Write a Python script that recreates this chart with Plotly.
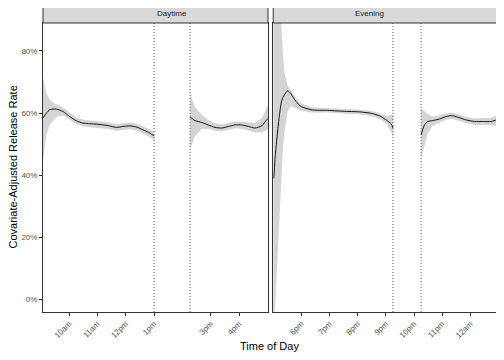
import plotly.graph_objects as go

# ---- data (percent) ----
day_a_hour = [9.08, 9.20, 9.32, 9.55, 9.79, 10.02, 10.26, 10.49, 10.73, 11.02, 11.37, 11.67, 11.90, 12.14, 12.39, 12.61, 12.81, 13.0]
day_a_rate = [58.4, 60.0, 61.1, 61.3, 60.5, 58.9, 57.5, 56.8, 56.6, 56.4, 56.0, 55.4, 55.7, 55.9, 55.5, 54.6, 53.8, 52.7]
day_a_hi   = [71.5, 66.5, 64.3, 62.8, 61.8, 60.2, 58.7, 57.9, 57.7, 57.5, 57.1, 56.5, 56.8, 57.0, 56.6, 55.8, 55.1, 54.2]
day_a_lo   = [44.5, 53.0, 56.2, 58.8, 59.2, 57.7, 56.4, 55.7, 55.5, 55.3, 54.9, 54.3, 54.6, 54.8, 54.4, 53.4, 52.5, 51.2]

day_b_hour = [14.27, 14.44, 14.68, 14.91, 15.15, 15.39, 15.62, 15.86, 16.09, 16.33, 16.56, 16.80, 16.97, 17.02]
day_b_rate = [58.7, 57.6, 57.0, 56.2, 55.4, 55.2, 55.7, 56.2, 56.2, 55.7, 55.2, 55.9, 57.8, 58.3]
day_b_hi   = [66.5, 62.0, 59.5, 57.8, 56.7, 56.4, 56.8, 57.3, 57.3, 57.0, 56.8, 58.4, 61.6, 62.5]
day_b_lo   = [48.2, 52.5, 55.0, 55.0, 54.3, 54.1, 54.6, 55.1, 55.0, 54.4, 53.8, 53.8, 54.6, 54.5]

eve_a_hour = [17.0, 17.02, 17.04, 17.06, 17.11, 17.16, 17.23, 17.28, 17.34, 17.40, 17.51, 17.63, 17.81, 17.99, 18.34, 18.58, 18.89, 19.48, 20.07, 20.50, 20.78, 21.01, 21.19, 21.25]
eve_a_rate = [None, 39.0, 41.7, 45.0, 50.0, 54.6, 60.0, 63.2, 65.0, 65.9, 67.2, 66.2, 63.7, 62.1, 61.1, 60.9, 60.9, 60.6, 60.4, 59.9, 59.1, 57.8, 56.5, 55.2]
eve_a_hi   = [120.0, 115.0, 110.0, 105.0, 100.0, 96.0, 92.0, 89.0, 79.4, 73.0, 69.0, 67.3, 64.8, 63.2, 62.0, 61.7, 61.6, 61.3, 61.1, 60.7, 60.0, 59.1, 59.3, 59.5]
eve_a_lo   = [-20.0, -14.0, -8.0, -3.0, 5.4, 16.0, 29.0, 38.0, 48.0, 54.0, 60.5, 62.3, 61.6, 60.8, 60.2, 60.1, 60.2, 59.9, 59.6, 59.0, 58.1, 56.6, 54.0, 51.9]

eve_b_hour = [22.25, 22.37, 22.49, 22.66, 22.90, 23.14, 23.32, 23.55, 23.85, 24.15, 24.44, 24.74, 24.92, 24.98]
eve_b_rate = [53.0, 56.2, 57.3, 57.6, 58.1, 58.9, 59.2, 58.7, 57.8, 57.3, 57.3, 57.3, 57.8, 58.0]
eve_b_hi   = [61.6, 60.5, 59.6, 58.9, 59.2, 59.9, 60.2, 59.7, 58.8, 58.3, 58.4, 58.5, 59.3, 59.7]
eve_b_lo   = [45.5, 49.8, 53.5, 55.9, 57.0, 57.9, 58.2, 57.7, 56.8, 56.2, 56.2, 56.1, 56.0, 55.9]

panels = ["Daytime", "Evening"]
day_ticks = [10, 11, 12, 13, 15, 16]
day_labels = ["10am", "11am", "12pm", "1pm", "3pm", "4pm"]
eve_ticks = [18, 19, 20, 21, 22, 23, 24]
eve_labels = ["6pm", "7pm", "8pm", "9pm", "10pm", "11pm", "12am"]
day_breaks = [13.0, 14.27]
eve_breaks = [21.25, 22.25]
y_ticks = [0, 0.2, 0.4, 0.6, 0.8]

RIBBON = "#d4d4d4"
DARK = "#333333"

fig = go.Figure()

def add_segment(xs, ys, hi, lo, xa, ya):
    px = list(xs) + list(xs)[::-1]
    py = [v / 100 for v in hi] + [v / 100 for v in lo][::-1]
    fig.add_trace(go.Scatter(x=px, y=py, fill="toself", fillcolor=RIBBON,
                             line=dict(width=0), mode="lines", hoverinfo="skip",
                             showlegend=False, xaxis=xa, yaxis=ya))
    fig.add_trace(go.Scatter(x=xs, y=[None if v is None else v / 100 for v in ys],
                             mode="lines", line=dict(color="black", width=0.9, shape="spline", smoothing=0.6),
                             showlegend=False, xaxis=xa, yaxis=ya))

add_segment(day_a_hour, day_a_rate, day_a_hi, day_a_lo, "x", "y")
add_segment(day_b_hour, day_b_rate, day_b_hi, day_b_lo, "x", "y")
add_segment(eve_a_hour, eve_a_rate, eve_a_hi, eve_a_lo, "x2", "y2")
add_segment(eve_b_hour, eve_b_rate, eve_b_hi, eve_b_lo, "x2", "y2")

FONT = "Liberation Sans, Arial, sans-serif"
d1 = [0, 0.4945]
d2 = [0.506, 1]

xcommon = dict(showgrid=False, zeroline=False, showline=True, mirror=True,
               linecolor=DARK, linewidth=1, ticks="outside", ticklen=3,
               tickcolor=DARK, tickangle=-45, automargin=False,
               tickfont=dict(family=FONT, size=8, color="#4d4d4d"))
ycommon = dict(showgrid=False, zeroline=False, showline=True, mirror=True,
               linecolor=DARK, linewidth=1, range=[-0.04, 0.89], automargin=False)

fig.update_layout(
    width=496, height=352,
    margin=dict(l=35, r=6, t=15, b=48),
    paper_bgcolor="white", plot_bgcolor="white",
    font=dict(family=FONT),
    xaxis=dict(domain=d1, range=[9.08, 17.02], tickvals=day_ticks, ticktext=day_labels, **xcommon),
    xaxis2=dict(domain=d2, range=[17.0, 24.98], tickvals=eve_ticks, ticktext=eve_labels, anchor="y2", **xcommon),
    yaxis=dict(tickvals=y_ticks, tickformat=".0%", ticks="outside", ticklen=3, tickcolor=DARK,
               tickfont=dict(family=FONT, size=8, color="#4d4d4d"), **ycommon),
    yaxis2=dict(anchor="x2", showticklabels=False, ticks="", matches="y", **ycommon),
)

for xr, brks in (("x", day_breaks), ("x2", eve_breaks)):
    for b in brks:
        fig.add_shape(type="line", xref=xr, yref="paper", x0=b, x1=b, y0=0, y1=1,
                      line=dict(color=DARK, width=0.8, dash="1px,2px"), layer="above")

strip_h = 18 / 289
for name, dom in zip(panels, (d1, d2)):
    fig.add_shape(type="rect", xref="paper", yref="paper", x0=dom[0], x1=dom[1],
                  y0=1, y1=1 + strip_h, fillcolor="#d9d9d9", line=dict(color=DARK, width=1))
    fig.add_annotation(text=name, xref="paper", yref="paper", x=(dom[0] + dom[1]) / 2,
                       y=1 + strip_h / 2, showarrow=False, yanchor="middle",
                       font=dict(family=FONT, size=8, color="#1a1a1a"))

fig.add_annotation(text="Time of Day", xref="paper", yref="paper", x=0.4989, y=-34 / 289,
                   showarrow=False, yanchor="middle", font=dict(family=FONT, size=11, color="black"))
fig.add_annotation(text="Covariate-Adjusted Release Rate", xref="paper", yref="paper",
                   x=-31 / 455, y=0.5, textangle=-90, showarrow=False, xanchor="center",
                   font=dict(family=FONT, size=11, color="black"))

fig.write_html("out.html")
